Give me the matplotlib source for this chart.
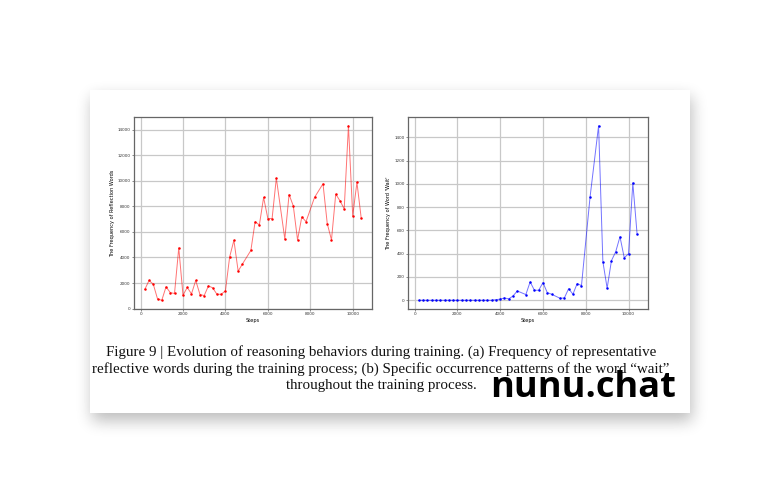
import matplotlib.pyplot as plt
import numpy as np

# steps shared by both panels (some checkpoints missing)
steps = [200, 400, 600, 800, 1000, 1200, 1400, 1600, 1800, 2000, 2200, 2400,
         2600, 2800, 3000, 3200, 3400, 3600, 3800, 4000, 4200, 4400, 4600, 4800,
         5200, 5400, 5600, 5800, 6000, 6200, 6400,
         6800, 7000, 7200, 7400, 7600, 7800,
         8200, 8600, 8800, 9000, 9200, 9400, 9600, 9800, 10000, 10200, 10400]

# (a) reflection words
reflection = [1500, 2200, 1900, 750, 650, 1700, 1250, 1180, 4750, 1050, 1650, 1150,
              2200, 1100, 1020, 1780, 1620, 1120, 1120, 1390, 4050, 5340, 2930, 3480,
              4550, 6800, 6540, 8690, 7040, 7040, 10200,
              5440, 8920, 8030, 5370, 7170, 6800,
              8690, 9760, 6650, 5370, 8950, 8430, 7800, 14300, 7250, 9870, 7090]

# (b) word "wait"
wait = [0, 0, 0, 0, 0, 0, 0, 0, 0, 0, 0, 0,
        0, 0, 0, 0, 0, 0, 5, 10, 20, 12, 37, 80,
        49, 158, 86, 86, 152, 66, 52,
        17, 20, 100, 52, 144, 126,
        885, 1500, 333, 103, 340, 417, 546, 365, 400, 1009, 569]

caption = ["Figure 9 | Evolution of reasoning behaviors during training. (a) Frequency of representative",
           "reflective words during the training process; (b) Specific occurrence patterns of the word \u201cwait\u201d",
           "throughout the training process."]

W, H = 780, 503
fig = plt.figure(figsize=(W / 100, H / 100), dpi=100)
fig.patch.set_facecolor('white')

# page card with a soft drop shadow
def blur(a, r):
    k = np.ones(2 * r + 1) / (2 * r + 1)
    a = np.apply_along_axis(lambda m: np.convolve(m, k, mode='same'), 0, a)
    a = np.apply_along_axis(lambda m: np.convolve(m, k, mode='same'), 1, a)
    return a

mask = np.zeros((H, W))
mask[97:421, 92:692] = 1
for _ in range(3):
    mask = blur(mask, 7)
bg_img = 1 - 0.26 * mask
bg_img[90:413, 90:690] = 1

bg = fig.add_axes([0, 0, 1, 1], zorder=-5)
bg.imshow(bg_img, cmap='gray', vmin=0, vmax=1, aspect='auto', interpolation='bilinear')
bg.axis('off')


def style(ax, ylabel):
    ax.grid(True, color='#c8c8c8', linewidth=0.9)
    ax.set_axisbelow(True)
    for s in ax.spines.values():
        s.set_color('#666666')
        s.set_linewidth(0.9)
    ax.tick_params(labelsize=3, length=1.5, width=0.4, pad=1, colors='#333333')
    ax.set_xlabel('Steps', fontsize=3.6, labelpad=1)
    ax.set_ylabel(ylabel, fontsize=3.6, labelpad=2)
    ax.set_xticks(np.arange(0, 10001, 2000))


ax1 = fig.add_axes([134 / W, 1 - 309 / H, 238 / W, 192 / H])
ax1.plot(steps, reflection, color='red', alpha=0.55, linewidth=0.7)
ax1.plot(steps, reflection, 'o', color='red', markersize=1.8, markeredgewidth=0)
ax1.set_yticks(np.arange(0, 14001, 2000))
style(ax1, 'The Frequency of Reflection Words')

ax2 = fig.add_axes([408 / W, 1 - 309 / H, 240 / W, 192 / H])
ax2.plot(steps, wait, color='blue', alpha=0.55, linewidth=0.7)
ax2.plot(steps, wait, 'o', color='blue', markersize=1.8, markeredgewidth=0)
ax2.set_yticks(np.arange(0, 1401, 200))
style(ax2, "The Frequency of Word 'Wait'")

for i, line in enumerate(caption):
    fig.text(381 / W, 1 - (352 + i * 17) / H, line, ha='center', va='center',
             fontsize=10.8, family='Liberation Serif', color='#111111')

fig.text(583 / W, 1 - 397 / H, 'nunu.chat', ha='center', va='baseline',
         fontsize=26, fontweight='bold', family='Open Sans', color='black')

fig.savefig('out.png', dpi=100)
